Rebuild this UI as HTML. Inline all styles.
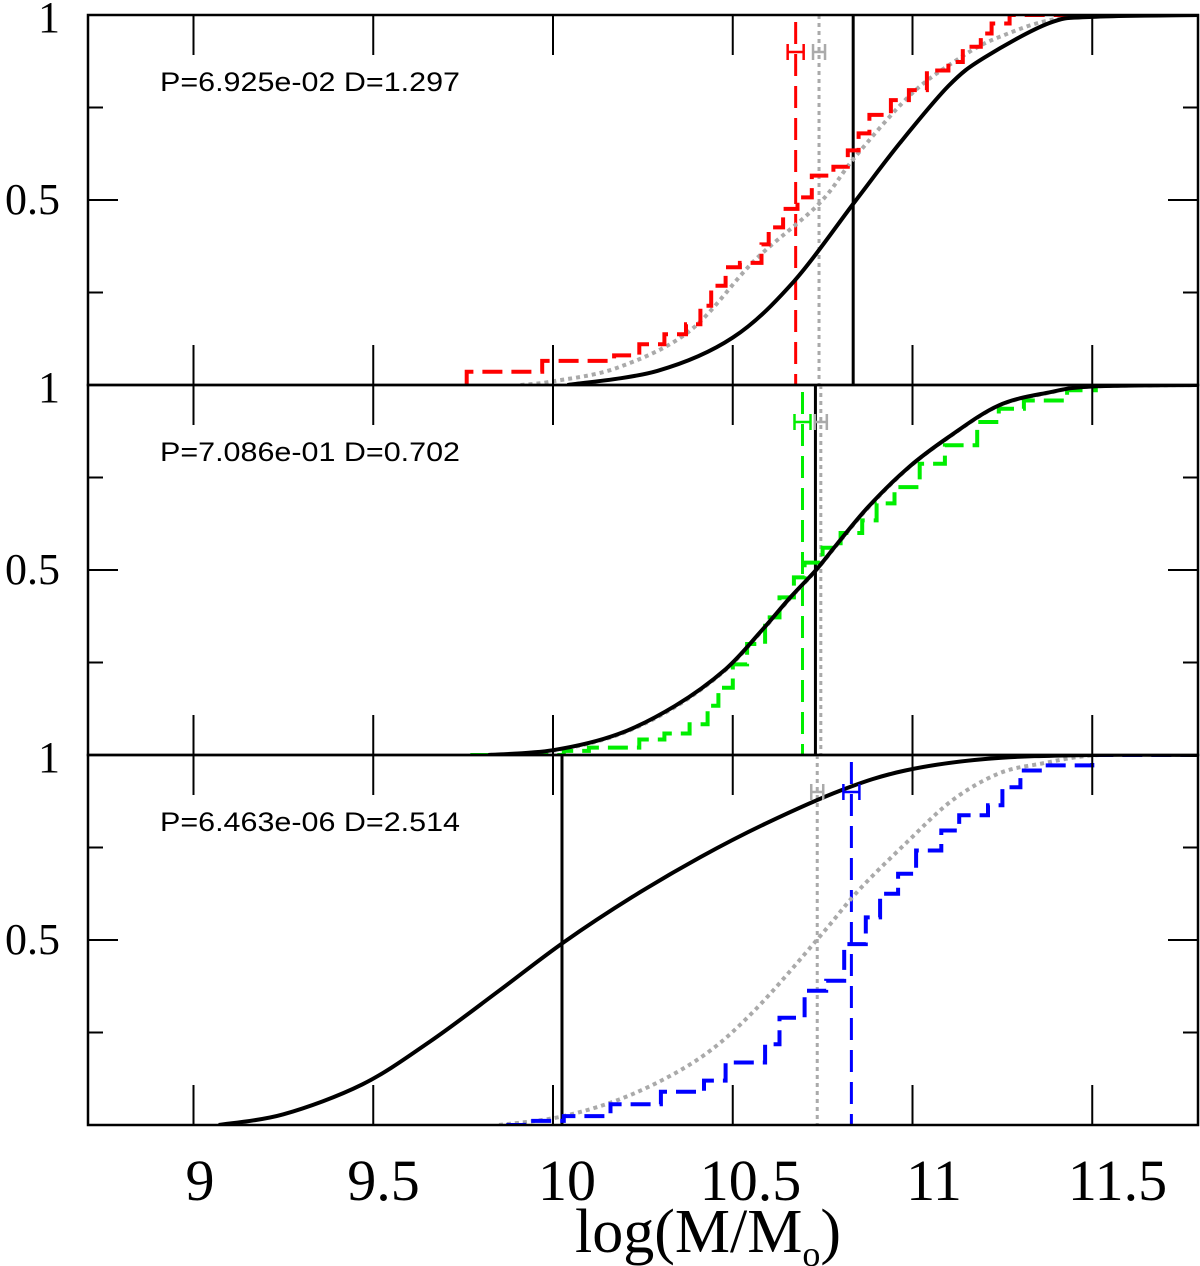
<!DOCTYPE html>
<html><head><meta charset="utf-8"><style>
html,body{margin:0;padding:0;background:#fff;}
svg{display:block;}
</style></head><body>
<svg id="chart" width="1200" height="1266" viewBox="0 0 1200 1266" xmlns="http://www.w3.org/2000/svg"></svg>
<script>
// ---- data ----
const xTicks = [9, 9.5, 10, 10.5, 11, 11.5];
const xTickLabels = ["9", "9.5", "10", "10.5", "11", "11.5"];
const yTicks = [0.25, 0.5, 0.75];
const yTickLabels = ["0.5", "1"];
const panelTexts = ["P=6.925e-02 D=1.297", "P=7.086e-01 D=0.702", "P=6.463e-06 D=2.514"];

// panel 1
const p1BlackX = [10.04,10.29,10.50,10.67,10.84,10.965,11.10,11.20,11.38,11.50,11.8];
const p1BlackY = [0,0.038,0.128,0.28,0.496,0.654,0.808,0.885,0.978,0.995,1];
const p1GrayX = [9.91,10.0,10.18,10.38,10.56,10.74,10.84,10.99,11.11,11.24,11.44,11.8];
const p1GrayY = [0,0.01,0.047,0.146,0.336,0.49,0.616,0.78,0.87,0.94,0.995,1];
const p1StepX = [9.76,9.76,9.97,10.17,10.24,10.31,10.37,10.41,10.44,10.48,10.52,10.58,10.60,10.64,10.68,10.72,10.78,10.82,10.85,10.88,10.94,10.99,11.04,11.10,11.14,11.19,11.22,11.27,11.8];
const p1StepY = [0,0.036,0.065,0.08,0.11,0.137,0.164,0.214,0.268,0.318,0.33,0.38,0.426,0.476,0.507,0.566,0.59,0.634,0.68,0.73,0.77,0.797,0.85,0.873,0.914,0.95,0.977,1,1];
const p1Medians = {black:10.835, gray:10.74, color:10.675};

// panel 2
const p2BlackX = [9.82,10.0,10.18,10.34,10.48,10.58,10.66,10.73,10.79,10.88,10.99,11.10,11.24,11.38,11.50,11.8];
const p2BlackY = [0,0.013,0.056,0.133,0.232,0.336,0.426,0.498,0.57,0.674,0.778,0.859,0.945,0.98,0.996,1];
const p2GrayX = p2BlackX;
const p2GrayY = [0,0.012,0.054,0.13,0.23,0.334,0.424,0.497,0.568,0.672,0.777,0.858,0.944,0.979,0.996,1];
const p2StepX = [9.77,10.03,10.10,10.24,10.31,10.38,10.43,10.46,10.50,10.54,10.59,10.63,10.67,10.70,10.75,10.80,10.86,10.90,10.95,11.02,11.09,11.18,11.24,11.31,11.43,11.51,11.8];
const p2StepY = [0,0.011,0.02,0.042,0.058,0.083,0.133,0.182,0.245,0.30,0.372,0.426,0.48,0.52,0.56,0.60,0.634,0.68,0.724,0.787,0.837,0.90,0.936,0.958,0.986,1,1];
const p2Medians = {black:10.73, gray:10.745, color:10.694};

// panel 3
const p3BlackX = [9.07,9.25,9.47,9.66,9.85,10.03,10.22,10.41,10.59,10.80,10.98,11.21,11.49,11.8];
const p3BlackY = [0,0.029,0.11,0.227,0.363,0.494,0.616,0.724,0.814,0.904,0.958,0.99,1,1];
const p3GrayX = [9.85,10.03,10.22,10.41,10.56,10.74,10.85,10.98,11.11,11.24,11.36,11.52,11.8];
const p3GrayY = [0,0.024,0.083,0.182,0.309,0.507,0.634,0.76,0.877,0.95,0.977,1,1];
const p3StepX = [9.87,9.92,10.03,10.16,10.30,10.42,10.48,10.59,10.63,10.70,10.76,10.81,10.87,10.91,10.96,11.01,11.08,11.13,11.21,11.25,11.30,11.36,11.50,11.8];
const p3StepY = [0,0.011,0.024,0.056,0.09,0.12,0.169,0.218,0.29,0.363,0.39,0.489,0.561,0.625,0.679,0.742,0.796,0.837,0.864,0.913,0.958,0.972,1,1];
const p3Medians = {black:10.025, gray:10.735, color:10.83};

// ---- layout ----
const L = 88, R = 1198, PH = 370, tops = [15, 385, 755];
const X = v => 553 + (v - 10) * 359.5;
const LX = v => 200 + (v - 9) * 367;
const NS = "http://www.w3.org/2000/svg";
const svg = document.getElementById('chart');
function mk(tag, attrs, parent) {
  const e = document.createElementNS(NS, tag);
  for (const k in attrs) e.setAttribute(k, attrs[k]);
  (parent || svg).appendChild(e);
  return e;
}
function smooth(pts) {
  let d = 'M' + pts[0][0].toFixed(1) + ',' + pts[0][1].toFixed(1);
  for (let i = 0; i < pts.length - 1; i++) {
    const p0 = pts[Math.max(0, i - 1)], p1 = pts[i], p2 = pts[i + 1], p3 = pts[Math.min(pts.length - 1, i + 2)];
    const c1x = p1[0] + (p2[0] - p0[0]) / 6, c1y = p1[1] + (p2[1] - p0[1]) / 6;
    const c2x = p2[0] - (p3[0] - p1[0]) / 6, c2y = p2[1] - (p3[1] - p1[1]) / 6;
    d += 'C' + c1x.toFixed(1) + ',' + c1y.toFixed(1) + ' ' + c2x.toFixed(1) + ',' + c2y.toFixed(1) + ' ' + p2[0].toFixed(1) + ',' + p2[1].toFixed(1);
  }
  return d;
}
const defs = mk('defs', {});
tops.forEach((t, i) => {
  const cp = mk('clipPath', {id: 'clip' + i}, defs);
  mk('rect', {x: L, y: t, width: R - L, height: PH}, cp);
});

const panels = [
  {bx:p1BlackX, by:p1BlackY, gx:p1GrayX, gy:p1GrayY, sx:p1StepX, sy:p1StepY, med:p1Medians, color:'#ff0000'},
  {bx:p2BlackX, by:p2BlackY, gx:p2GrayX, gy:p2GrayY, sx:p2StepX, sy:p2StepY, med:p2Medians, color:'#00ee00'},
  {bx:p3BlackX, by:p3BlackY, gx:p3GrayX, gy:p3GrayY, sx:p3StepX, sy:p3StepY, med:p3Medians, color:'#0000ff'}
];

panels.forEach((p, i) => {
  const top = tops[i];
  const Y = v => top + PH - v * PH;
  const g = mk('g', {'clip-path': 'url(#clip' + i + ')'});
  
  

  const lc = mk('line', {x1: X(p.med.color), x2: X(p.med.color), y1: top + 7, y2: top + PH, stroke: p.color, 'stroke-width': 3, 'stroke-dasharray': '22 10'}, g);
  
  
  const lg = mk('line', {x1: X(p.med.gray), x2: X(p.med.gray), y1: top, y2: top + PH, stroke: '#aaaaaa', 'stroke-width': 3, 'stroke-dasharray': '4 4'}, g);
  
  
  const lb = mk('line', {x1: X(p.med.black), x2: X(p.med.black), y1: top, y2: top + PH, stroke: '#000', 'stroke-width': 3}, g);
  
  

  const gc = mk('path', {d: smooth(p.gx.map((v, k) => [X(v), Y(p.gy[k])])), fill: 'none', stroke: '#aaaaaa', 'stroke-width': 4, 'stroke-dasharray': '4 4'}, g);
  
  

  let d = 'M' + X(p.sx[0]).toFixed(1) + ',' + Y(p.sy[0]).toFixed(1);
  for (let k = 1; k < p.sx.length; k++) d += 'H' + X(p.sx[k]).toFixed(1) + 'V' + Y(p.sy[k]).toFixed(1);
  const sc = mk('path', {d, fill: 'none', stroke: p.color, 'stroke-width': 4, 'stroke-dasharray': '20 9'}, g);
  
  

  const bc = mk('path', {d: smooth(p.bx.map((v, k) => [X(v), Y(p.by[k])])), fill: 'none', stroke: '#000', 'stroke-width': 4, 'stroke-linejoin': 'round'}, g);
  
  

  const ey = Y(0.9);
  [[p.med.color, p.color], [p.med.gray, '#aaaaaa']].forEach(([m, c], j) => {
    const a = j === 0 ? X(m) - 8 : X(m) - 6, b = j === 0 ? X(m) + 8 : X(m) + 6;
    const eb = mk('path', {d: `M${a},${ey - 8}V${ey + 8}M${b},${ey - 8}V${ey + 8}M${a},${ey}H${b}`, fill: 'none', stroke: c, 'stroke-width': 2.5}, g);
    
    
  });

  const fr = mk('rect', {x: L, y: top, width: R - L, height: PH, fill: 'none', stroke: '#000', 'stroke-width': 2.5});
  
  

  xTicks.forEach(v => {
    const t1 = mk('line', {x1: X(v), x2: X(v), y1: top, y2: top + 40, stroke: '#000', 'stroke-width': 2});
    
    
    const t2 = mk('line', {x1: X(v), x2: X(v), y1: top + PH - 40, y2: top + PH, stroke: '#000', 'stroke-width': 2});
    
    
  });
  yTicks.forEach(v => {
    const len = v === 0.5 ? 30 : 15;
    const a = mk('line', {x1: L, x2: L + len, y1: Y(v), y2: Y(v), stroke: '#000', 'stroke-width': 2});
    
    
    const b = mk('line', {x1: R - len, x2: R, y1: Y(v), y2: Y(v), stroke: '#000', 'stroke-width': 2});
    
    
  });
  const l5 = mk('text', {x: 60, y: Y(0.5) + 14, 'text-anchor': 'end', 'font-family': 'Liberation Serif, serif', 'font-size': 44});
  l5.textContent = yTickLabels[0];
  
  
  const l1 = mk('text', {x: 60, y: top + 17, 'text-anchor': 'end', 'font-family': 'Liberation Serif, serif', 'font-size': 44});
  l1.textContent = yTickLabels[1];
  
  
  const st = mk('text', {x: 160, y: top + 76, 'font-family': 'Liberation Sans, sans-serif', 'font-size': 27, textLength: 300, lengthAdjust: 'spacingAndGlyphs'});
  st.textContent = panelTexts[i];
  
  
});

xTicks.forEach((v, k) => {
  const t = mk('text', {x: LX(v), y: 1200, 'text-anchor': 'middle', 'font-family': 'Liberation Serif, serif', 'font-size': 58});
  t.textContent = xTickLabels[k];
  
  
});
const xt = mk('text', {x: 708, y: 1252, 'text-anchor': 'middle', 'font-family': 'Liberation Serif, serif', 'font-size': 62});


xt.appendChild(document.createTextNode('log(M/M'));
const sub = mk('tspan', {'font-size': 36, dy: 14}, xt);
sub.textContent = 'o';
const cl = mk('tspan', {dy: -14}, xt);
cl.textContent = ')';
</script>
</body></html>
